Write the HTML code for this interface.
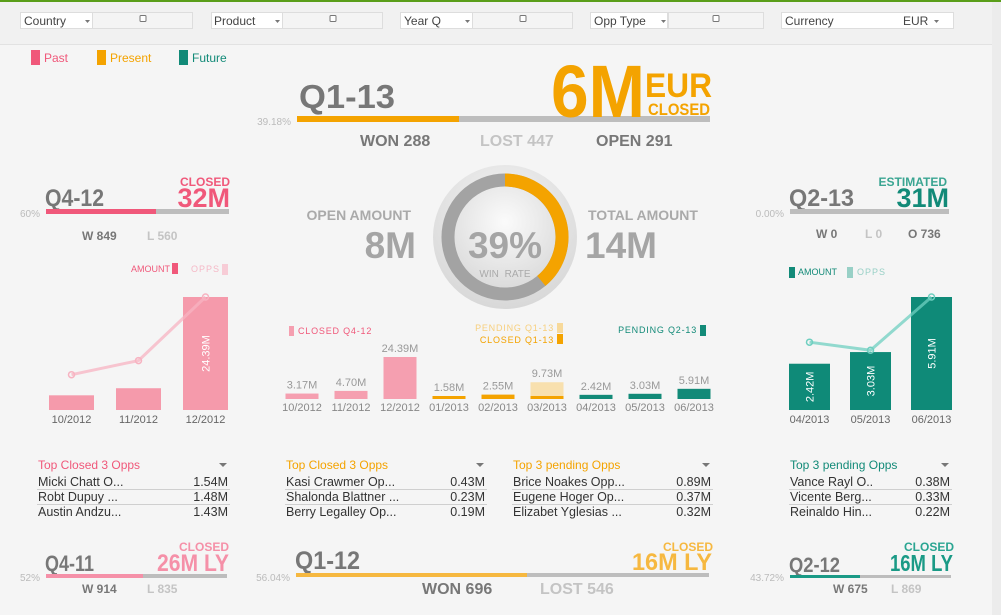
<!DOCTYPE html>
<html><head><meta charset="utf-8">
<style>
html,body{margin:0;padding:0;width:1001px;height:615px;overflow:hidden;background:#f6f6f6;font-family:"Liberation Sans",sans-serif;}
svg{position:absolute;left:0;top:0;}
text{font-family:"Liberation Sans",sans-serif;}
</style></head>
<body>
<svg id="s" width="1001" height="615" viewBox="0 0 1001 615" xmlns="http://www.w3.org/2000/svg">
<defs>
<radialGradient id="gIn" cx="50%" cy="35%" r="65%"><stop offset="0" stop-color="#fbfbfb"/><stop offset="1" stop-color="#dcdcdc"/></radialGradient>
<radialGradient id="gOut" cx="50%" cy="30%" r="70%"><stop offset="0" stop-color="#f2f2f2"/><stop offset="1" stop-color="#d8d8d8"/></radialGradient>
</defs>
<rect x="0" y="0" width="1001" height="615" fill="#f5f5f5"/>
<rect x="992" y="0" width="9" height="615" fill="#ececec"/>
<g>
<rect x="0" y="0" width="992" height="44" fill="#f1f1f1"/>
<rect x="0" y="0" width="1001" height="2" fill="#5a9e1a"/>
<rect x="0" y="44" width="992" height="1" fill="#e2e2e2"/>
<g><rect x="20.5" y="12.5" width="72" height="16" fill="#fff" stroke="#ddd"/><text x="24" y="25" font-size="12" fill="#444">Country</text><path d="M85 20h5l-2.5 3z" fill="#777"/><rect x="92.5" y="12.5" width="100" height="16" fill="#f4f4f4" stroke="#ddd"/><rect x="140" y="15.5" width="6" height="6" rx="1" fill="#fff" stroke="#777"/></g>
<g><rect x="211.5" y="12.5" width="71" height="16" fill="#fff" stroke="#ddd"/><text x="214" y="25" font-size="12" fill="#444">Product</text><path d="M275 20h5l-2.5 3z" fill="#777"/><rect x="282.5" y="12.5" width="100" height="16" fill="#f4f4f4" stroke="#ddd"/><rect x="330" y="15.5" width="6" height="6" rx="1" fill="#fff" stroke="#777"/></g>
<g><rect x="400.5" y="12.5" width="72" height="16" fill="#fff" stroke="#ddd"/><text x="404" y="25" font-size="12" fill="#444">Year Q</text><path d="M465 20h5l-2.5 3z" fill="#777"/><rect x="472.5" y="12.5" width="100" height="16" fill="#f4f4f4" stroke="#ddd"/><rect x="520" y="15.5" width="6" height="6" rx="1" fill="#fff" stroke="#777"/></g>
<g><rect x="590.5" y="12.5" width="77" height="16" fill="#fff" stroke="#ddd"/><text x="594" y="25" font-size="12" fill="#444">Opp Type</text><path d="M661 20h5l-2.5 3z" fill="#777"/><rect x="668.5" y="12.5" width="95" height="16" fill="#f4f4f4" stroke="#ddd"/><rect x="713" y="15.5" width="6" height="6" rx="1" fill="#fff" stroke="#777"/></g>
<g><rect x="781.5" y="12.5" width="172" height="16" fill="#fff" stroke="#ddd"/><text x="785" y="25" font-size="12" fill="#444">Currency</text><text x="903" y="25" font-size="12" fill="#444">EUR</text><path d="M934 20h5l-2.5 3z" fill="#777"/></g>
</g>
<g>
<rect x="31" y="50" width="9" height="15" fill="#f0587a"/><text x="44" y="62" font-size="12" fill="#f0587a">Past</text>
<rect x="97" y="50" width="9" height="15" fill="#f4a300"/><text x="110" y="62" font-size="12" fill="#f4a300">Present</text>
<rect x="179" y="50" width="9" height="15" fill="#128a78"/><text x="192" y="62" font-size="12" fill="#128a78">Future</text>
</g>
<g>
<text x="299" y="108" font-size="33" font-weight="bold" fill="#777" textLength="96" lengthAdjust="spacingAndGlyphs">Q1-13</text>
<text x="291" y="125" font-size="10" fill="#bbb" text-anchor="end">39.18%</text>
<rect x="297" y="116" width="413" height="6" fill="#bdbdbd"/>
<rect x="297" y="116" width="162" height="6" fill="#f4a300"/>
<text x="551" y="117" font-size="74" font-weight="bold" fill="#f4a300" textLength="94" lengthAdjust="spacingAndGlyphs">6M</text>
<text x="645" y="97" font-size="34" font-weight="bold" fill="#f4a300" textLength="67" lengthAdjust="spacingAndGlyphs">EUR</text>
<text x="648" y="115" font-size="17" font-weight="bold" fill="#f4a300" textLength="62" lengthAdjust="spacingAndGlyphs">CLOSED</text>
<text x="360" y="146" font-size="16" font-weight="bold" fill="#777">WON 288</text>
<text x="480" y="146" font-size="16" font-weight="bold" fill="#c4c4c4">LOST 447</text>
<text x="596" y="146" font-size="16" font-weight="bold" fill="#777">OPEN 291</text>
</g>
<g>
<text x="45" y="206" font-size="24" font-weight="bold" fill="#777" textLength="59" lengthAdjust="spacingAndGlyphs">Q4-12</text>
<text x="230" y="186" font-size="12" font-weight="bold" fill="#f0587a" text-anchor="end">CLOSED</text>
<text x="230" y="207" font-size="27" font-weight="bold" fill="#f0587a" text-anchor="end">32M</text>
<text x="40" y="217" font-size="10" fill="#bbb" text-anchor="end">60%</text>
<rect x="46" y="209" width="183" height="5" fill="#bdbdbd"/><rect x="46" y="209" width="110" height="5" fill="#f0587a"/>
<text x="82" y="240" font-size="12" font-weight="bold" fill="#777">W 849</text>
<text x="147" y="240" font-size="12" font-weight="bold" fill="#c4c4c4">L 560</text>
<text x="170" y="272" font-size="9" fill="#f0587a" text-anchor="end">AMOUNT</text><rect x="172" y="263" width="6" height="11" fill="#f0587a"/>
<text x="220" y="272" font-size="9" fill="#f5b8c6" text-anchor="end" letter-spacing="1">OPPS</text><rect x="222" y="264" width="6" height="11" fill="#f7ccd6"/>
</g>
<g id="leftChart"></g>
<g>
<text x="789" y="206" font-size="24" font-weight="bold" fill="#777" textLength="65" lengthAdjust="spacingAndGlyphs">Q2-13</text>
<text x="947" y="186" font-size="12" font-weight="bold" fill="#3aa592" text-anchor="end">ESTIMATED</text>
<text x="949" y="207" font-size="27" font-weight="bold" fill="#128a78" text-anchor="end">31M</text>
<text x="784" y="217" font-size="10" fill="#bbb" text-anchor="end">0.00%</text>
<rect x="790" y="209" width="159" height="5" fill="#bdbdbd"/>
<text x="816" y="238" font-size="12" font-weight="bold" fill="#777">W 0</text>
<text x="865" y="238" font-size="12" font-weight="bold" fill="#c4c4c4">L 0</text>
<text x="908" y="238" font-size="12" font-weight="bold" fill="#777">O 736</text>
<rect x="789" y="267" width="6" height="11" fill="#128a78"/><text x="798" y="275" font-size="9" fill="#128a78">AMOUNT</text>
<rect x="847" y="267" width="6" height="11" fill="#98d0c6"/><text x="857" y="275" font-size="9" fill="#98d0c6" letter-spacing="1">OPPS</text>
</g>
<g id="rightChart"></g>
<g>
<text x="411" y="220" font-size="14" font-weight="bold" fill="#aaa" text-anchor="end">OPEN AMOUNT</text>
<text x="416" y="258" font-size="37" font-weight="bold" fill="#a5a5a5" text-anchor="end">8M</text>
</g>
<g>
<text x="588" y="220" font-size="14" font-weight="bold" fill="#aaa">TOTAL AMOUNT</text>
<text x="585" y="258" font-size="37" font-weight="bold" fill="#a5a5a5">14M</text>
</g>
<g id="gauge">
<circle cx="505" cy="237" r="72" fill="url(#gOut)"/>
<circle cx="505" cy="237" r="57" fill="none" stroke="#a3a3a3" stroke-width="13"/>
<path id="gaugeArc" fill="none" stroke="#f4a300" stroke-width="13"/>
<circle cx="505" cy="237" r="50" fill="url(#gIn)"/>
<text x="505" y="258" font-size="37" font-weight="bold" fill="#a5a5a5" text-anchor="middle">39%</text>
<text x="505" y="277" font-size="10" fill="#aaa" text-anchor="middle" word-spacing="3">WIN RATE</text>
</g>
<g>
<rect x="289" y="326" width="5" height="10" fill="#f59fb0"/><text x="298" y="334" font-size="9" fill="#f0587a" letter-spacing="0.8">CLOSED Q4-12</text>
<text x="554" y="331" font-size="9" fill="#f7cf7c" text-anchor="end" letter-spacing="0.8">PENDING Q1-13</text><rect x="557" y="323" width="6" height="10" fill="#f7d99a"/>
<text x="554" y="343" font-size="9" fill="#f4a300" text-anchor="end" letter-spacing="0.8">CLOSED Q1-13</text><rect x="557" y="334" width="6" height="10" fill="#f4a300"/>
<text x="697" y="333" font-size="9" fill="#128a78" text-anchor="end" letter-spacing="0.8">PENDING Q2-13</text><rect x="700" y="325" width="6" height="11" fill="#128a78"/>
</g>
<g id="midChart"></g>
<g id="tables"></g>
<g>
<text x="45" y="571" font-size="22" font-weight="bold" fill="#777" textLength="49" lengthAdjust="spacingAndGlyphs">Q4-11</text>
<text x="229" y="551" font-size="12" font-weight="bold" fill="#f590a8" text-anchor="end">CLOSED</text>
<text x="229" y="571" font-size="24" font-weight="bold" fill="#f590a8" text-anchor="end" textLength="72" lengthAdjust="spacingAndGlyphs">26M LY</text>
<text x="40" y="581" font-size="10" fill="#bbb" text-anchor="end">52%</text>
<rect x="46" y="574" width="181" height="4" fill="#bdbdbd"/><rect x="46" y="574" width="97" height="4" fill="#f590a8"/>
<text x="82" y="593" font-size="12" font-weight="bold" fill="#777">W 914</text>
<text x="147" y="593" font-size="12" font-weight="bold" fill="#c4c4c4">L 835</text>
</g>
<g>
<text x="295" y="569" font-size="25" font-weight="bold" fill="#777" textLength="65" lengthAdjust="spacingAndGlyphs">Q1-12</text>
<text x="713" y="551" font-size="12" font-weight="bold" fill="#f6b840" text-anchor="end">CLOSED</text>
<text x="712" y="570" font-size="24" font-weight="bold" fill="#f6b840" text-anchor="end" textLength="80" lengthAdjust="spacingAndGlyphs">16M LY</text>
<text x="290" y="581" font-size="10" fill="#bbb" text-anchor="end">56.04%</text>
<rect x="296" y="573" width="413" height="4" fill="#bdbdbd"/><rect x="296" y="573" width="231" height="4" fill="#f6b840"/>
<text x="422" y="594" font-size="16" font-weight="bold" fill="#777">WON 696</text>
<text x="540" y="594" font-size="16" font-weight="bold" fill="#c4c4c4">LOST 546</text>
</g>
<g>
<text x="789" y="572" font-size="21" font-weight="bold" fill="#777" textLength="51" lengthAdjust="spacingAndGlyphs">Q2-12</text>
<text x="954" y="551" font-size="12" font-weight="bold" fill="#2aa592" text-anchor="end">CLOSED</text>
<text x="953" y="571" font-size="23" font-weight="bold" fill="#1a9a86" text-anchor="end" textLength="63" lengthAdjust="spacingAndGlyphs">16M LY</text>
<text x="784" y="581" font-size="10" fill="#bbb" text-anchor="end">43.72%</text>
<rect x="790" y="575" width="161" height="3" fill="#bdbdbd"/><rect x="790" y="575" width="70" height="3" fill="#1a9a86"/>
<text x="833" y="593" font-size="12" font-weight="bold" fill="#777">W 675</text>
<text x="891" y="593" font-size="12" font-weight="bold" fill="#c4c4c4">L 869</text>
</g>
</svg>
<script>
const NS="http://www.w3.org/2000/svg";
const leftMonths=["10/2012","11/2012","12/2012"];
const leftAmounts=[3.17,4.70,24.39];
const leftAmountLabels=["","","24.39M"];
const leftOpps=[250,350,800];
const rightMonths=["04/2013","05/2013","06/2013"];
const rightAmounts=[2.42,3.03,5.91];
const rightAmountLabels=["2.42M","3.03M","5.91M"];
const rightOpps=[210,185,350];
const midMonths=["10/2012","11/2012","12/2012","01/2013","02/2013","03/2013","04/2013","05/2013","06/2013"];
const midTotals=[3.17,4.70,24.39,1.58,2.55,9.73,2.42,3.03,5.91];
const midClosed=[3.17,4.70,24.39,1.58,2.55,1.6,0,0,0];
const midLabels=["3.17M","4.70M","24.39M","1.58M","2.55M","9.73M","2.42M","3.03M","5.91M"];
const midGroup=["past","past","past","present","present","present","future","future","future"];
const winRate=0.39;
const tableTitles=["Top Closed 3 Opps","Top Closed 3 Opps","Top 3 pending Opps","Top 3 pending Opps"];
const tableNames=[["Micki  Chatt O...","Robt  Dupuy ...","Austin  Andzu..."],["Kasi  Crawmer Op...","Shalonda  Blattner ...","Berry  Legalley Op..."],["Brice  Noakes Opp...","Eugene  Hoger Op...","Elizabet  Yglesias ..."],["Vance  Rayl O..","Vicente  Berg...","Reinaldo  Hin..."]];
const tableValues=[["1.54M","1.48M","1.43M"],["0.43M","0.23M","0.19M"],["0.89M","0.37M","0.32M"],["0.38M","0.33M","0.22M"]];

function el(tag,attrs,parent){const e=document.createElementNS(NS,tag);for(const k in attrs)e.setAttribute(k,attrs[k]);parent.appendChild(e);return e;}

function smallChart(gid,months,amounts,labels,opps,x0,step,bw,base,hMax,barColor,lineColor){
  const g=document.getElementById(gid);
  const aMax=Math.max(...amounts), oMax=Math.max(...opps);
  const y=v=>base-v/aMax*hMax;
  const yo=v=>base-v/oMax*hMax;
  months.forEach((m,i)=>{
    const x=x0+i*step;
    const r=el("rect",{x:x,y:y(amounts[i]),width:bw,height:base-y(amounts[i]),fill:barColor},g);
    
    
    const t=el("text",{x:x+bw/2,y:base+13,"font-size":"11",fill:"#666","text-anchor":"middle"},g);t.textContent=m;
    
    
    if(labels[i]){
      const cy=(y(amounts[i])+base)/2, cx=x+bw/2+4;
      const l=el("text",{x:cx,y:cy,"font-size":"11",fill:"#fff","text-anchor":"middle",transform:`rotate(-90 ${cx} ${cy})`},g);l.textContent=labels[i];
      
      
    }
  });
  const pts=opps.map((v,i)=>[x0+i*step+bw/2,yo(v)]);
  const pl=el("polyline",{points:pts.map(p=>p.join(",")).join(" "),fill:"none",stroke:lineColor,"stroke-width":"3","stroke-opacity":"0.75"},g);
  
  
  pts.forEach(p=>{const c=el("circle",{cx:p[0],cy:p[1],r:3,fill:"none",stroke:lineColor,"stroke-width":"1.5"},g);
    
    });
}
smallChart("leftChart",leftMonths,leftAmounts,leftAmountLabels,leftOpps,49,67,45,410,113,"#f59aab","#f7b3c1");
smallChart("rightChart",rightMonths,rightAmounts,rightAmountLabels,rightOpps,789,61,41,410,113,"#0f8a78","#6fcfc0");

(function(){
  const g=document.getElementById("midChart");
  const base=399, hMax=42, aMax=Math.max(...midTotals);
  const h=v=>v/aMax*hMax;
  const col={past:"#f59fb0",present:"#f4a300",future:"#128a78"};
  midMonths.forEach((m,i)=>{
    const cx=302+i*49, bw=33;
    if(midGroup[i]==="present" && midTotals[i]>midClosed[i]){
      const p=el("rect",{x:cx-bw/2,y:base-h(midTotals[i]),width:bw,height:h(midTotals[i]),fill:"#f8e0ae"},g);
      
      
    }
    const v=midGroup[i]==="future"?midTotals[i]:midClosed[i];
    const hh=Math.max(h(v),3);
    const r=el("rect",{x:cx-bw/2,y:base-hh,width:bw,height:hh,fill:col[midGroup[i]]},g);
    
    
    const lt=el("text",{x:cx,y:base-Math.max(h(midTotals[i]),3)-5,"font-size":"11",fill:"#999","text-anchor":"middle"},g);lt.textContent=midLabels[i];
    
    
    const t=el("text",{x:cx,y:base+12,"font-size":"11",fill:"#888","text-anchor":"middle"},g);t.textContent=m;
    
    
  });
})();

(function(){
  const a=winRate*2*Math.PI, r=57, cx=505, cy=237;
  const x=cx+r*Math.sin(a), y=cy-r*Math.cos(a);
  document.getElementById("gaugeArc").setAttribute("d",`M${cx} ${cy-r} A${r} ${r} 0 ${a>Math.PI?1:0} 1 ${x} ${y}`);
})();

(function(){
  const g=document.getElementById("tables");
  const xs=[[37,230],[285,487],[512,713],[789,952]];
  const cols=["#f0587a","#f4a300","#f4a300","#128a78"];
  tableTitles.forEach((tt,k)=>{
    const [x1,x2]=xs[k];
    const h=el("text",{x:x1+1,y:469,"font-size":"12",fill:cols[k]},g);h.textContent=tt;
    
    
    const ar=el("path",{d:`M${x2-11} 463h8l-4 4z`,fill:"#777"},g);
    
    
    tableNames[k].forEach((n,i)=>{
      const yy=486+i*15;
      const a=el("text",{x:x1+1,y:yy,"font-size":"12.5",fill:"#333"},g);a.textContent=n;
      
      
      const b=el("text",{x:x2-2,y:yy,"font-size":"12.5",fill:"#333","text-anchor":"end"},g);b.textContent=tableValues[k][i];
      
      
      if(i<2){const ln=el("rect",{x:x1,y:yy+3,width:x2-x1,height:1,fill:"#cfcfcf"},g);
        
        }
    });
  });
})();
</script>
</body></html>
